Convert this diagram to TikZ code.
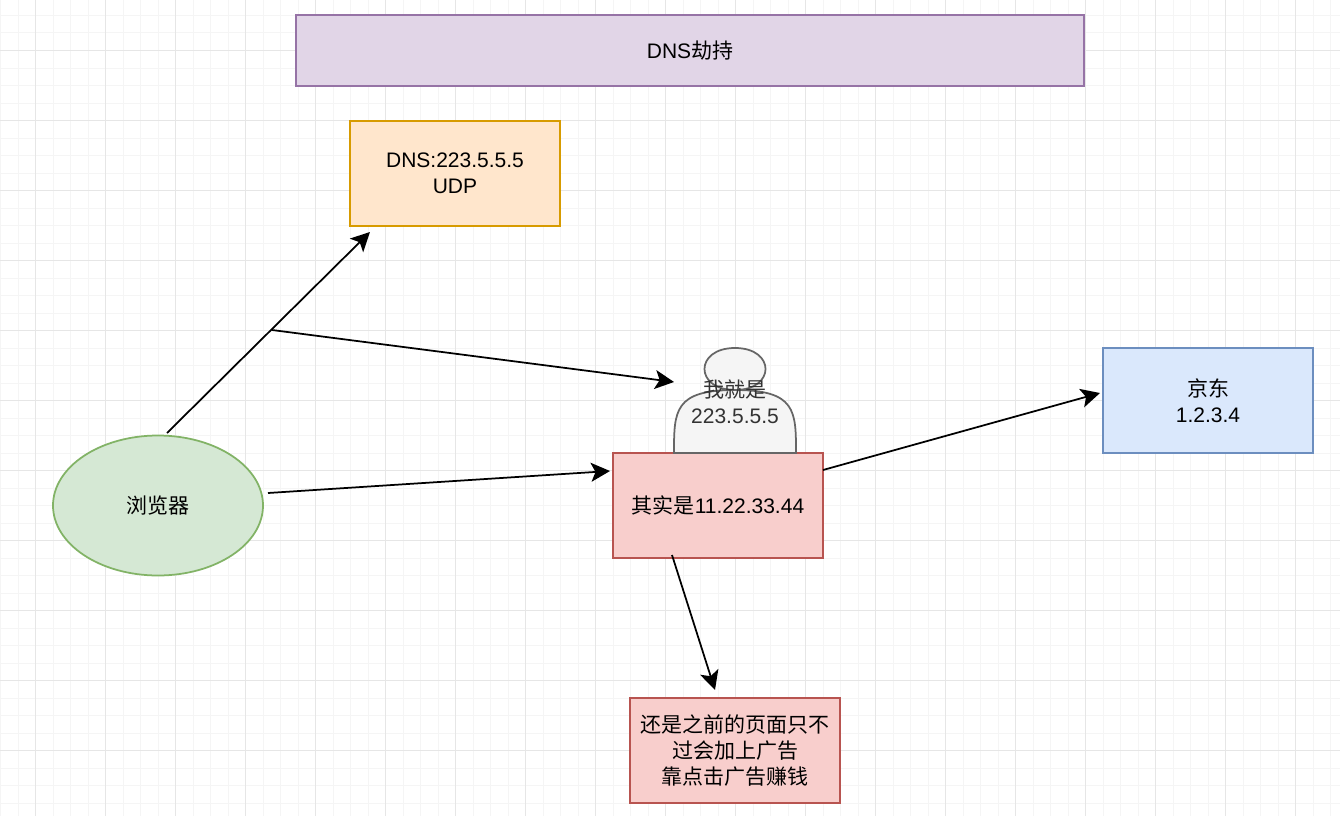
\documentclass[tikz,border=0pt]{standalone}
\usepackage{fontspec}
\setmainfont{Liberation Sans}
\newfontfamily\zh{Noto Sans CJK SC}
\definecolor{GridMajor}{HTML}{E6E6E6}
\definecolor{GridMinor}{HTML}{F5F5F5}
\definecolor{TitleFill}{HTML}{E1D5E7}
\definecolor{TitleLine}{HTML}{9673A6}
\definecolor{DnsFill}{HTML}{FFE6CC}
\definecolor{DnsLine}{HTML}{D79B00}
\definecolor{BrowserFill}{HTML}{D5E8D4}
\definecolor{BrowserLine}{HTML}{82B366}
\definecolor{SiteFill}{HTML}{DAE8FC}
\definecolor{SiteLine}{HTML}{6C8EBF}
\definecolor{FakeFill}{HTML}{F8CECC}
\definecolor{FakeLine}{HTML}{B85450}
\definecolor{ActorFill}{HTML}{F5F5F5}
\definecolor{ActorLine}{HTML}{666666}
\definecolor{ActorText}{HTML}{333333}
\usetikzlibrary{shapes.geometric, arrows.meta}

\tikzset{
  box/.style={draw, line width=1.75pt, minimum width=210pt, minimum height=105pt, inner sep=0pt, align=center, font=\fontsize{21}{26}\selectfont},
  link/.style={line width=1.75pt, -{Stealth[length=19pt, width=19pt, inset=4.5pt]}}
}

\begin{document}
\begin{tikzpicture}[x=1pt, y=-1pt]
    \useasboundingbox (0,0) rectangle (1340,816);
    \fill[white] (0,0) rectangle (1340,816);

    \foreach \gx in {0.5,18,...,1340} {
      \draw[GridMinor, line width=1pt] (\gx,0) -- (\gx,816);
    }
    \foreach \gy in {15.5,33,...,816} {
      \draw[GridMinor, line width=1pt] (0,\gy) -- (1340,\gy);
    }
    \foreach \gx in {35.5,105.5,...,1340} {
      \draw[GridMajor, line width=1pt] (\gx,0) -- (\gx,816);
    }
    \foreach \gy in {50.5,120.5,...,816} {
      \draw[GridMajor, line width=1pt] (0,\gy) -- (1340,\gy);
    }

    \node[box, draw=TitleLine, fill=TitleFill, minimum width=788pt, minimum height=71pt] (title) at (690,50.5) {DNS{\zh 劫持}};
    \node[box, draw=DnsLine, fill=DnsFill] (dns) at (455,173.5) {DNS:223.5.5.5\\UDP};
    \node[box, draw=SiteLine, fill=SiteFill] (site) at (1208,400.5) {{\zh 京东}\\1.2.3.4};
    \node[box, draw=BrowserLine, fill=BrowserFill, ellipse, minimum height=140pt] (browser) at (158,505.5) {{\zh 浏览器}};
    \node[box, draw=FakeLine, fill=FakeFill] (fake) at (718,505.5) {{\zh 其实是}11.22.33.44};
    \node[box, draw=FakeLine, fill=FakeFill] (ads) at (735,750.5) {{\zh 还是之前的页面只不}\\{\zh 过会加上广告}\\{\zh 靠点击广告赚钱}};

    \draw[draw=ActorLine, fill=ActorFill, line width=1.75pt]
      (674,453) .. controls (674,411) and (674,390) .. (735,390)
      .. controls (694.3,390) and (694.3,348) .. (735,348)
      .. controls (775.7,348) and (775.7,390) .. (735,390)
      .. controls (796,390) and (796,411) .. (796,453) -- cycle;
    \node[align=center, text=ActorText, font=\fontsize{21}{26}\selectfont] (hacker) at (735,401.5) {{\zh 我就是}\\223.5.5.5};

    \coordinate (browserTop) at (167,433);
    \coordinate (dnsTip) at (370,232);
    \coordinate (splitStart) at (272,330);
    \coordinate (hackerTip) at (674,382);
    \coordinate (browserRight) at (268,493);
    \coordinate (fakeTip) at (610,471);
    \coordinate (fakeRight) at (823,470);
    \coordinate (siteTip) at (1100,393);
    \coordinate (fakeBottom) at (672,555);
    \coordinate (adsTip) at (715,690);

    \draw[link] (browserTop) -- (dnsTip);
    \draw[link] (splitStart) -- (hackerTip);
    \draw[link] (browserRight) -- (fakeTip);
    \draw[link] (fakeRight) -- (siteTip);
    \draw[link] (fakeBottom) -- (adsTip);
  \end{tikzpicture}
\end{document}
